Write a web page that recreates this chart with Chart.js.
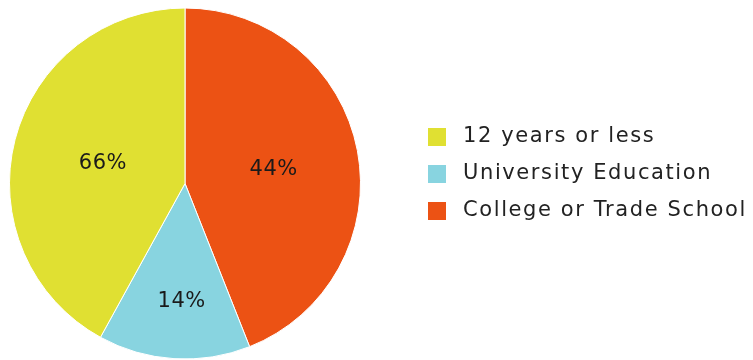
<!DOCTYPE html>
<html>
<head>
<meta charset="utf-8">
<script src="https://cdn.jsdelivr.net/npm/chart.js@4"></script>
<style>
  html, body { margin: 0; padding: 0; background: #fff; }
  #wrap { width: 753px; height: 360px; }
</style>
</head>
<body>
<div id="wrap"><canvas id="pieChart"></canvas></div>
<script>
const categories = ['12 years or less', 'University Education', 'College or Trade School'];
const shares = [42, 14, 44];
const shareLabels = ['66%', '14%', '44%'];
const sliceColors = ['#E0E032', '#88D4E0', '#EC5214'];

// slices go clockwise from the top in the reverse of the legend order
const order = [2, 1, 0];

// percent text at each slice's centroid
const sliceText = {
    id: 'sliceText',
    afterDatasetsDraw(chart) {
        const ctx = chart.ctx;
        const arcs = chart.getDatasetMeta(0).data;
        ctx.save();
        ctx.font = '21px "DejaVu Sans"';
        ctx.letterSpacing = '0.5px';
        ctx.fillStyle = '#1a1a1a';
        ctx.textAlign = 'center';
        ctx.textBaseline = 'middle';
        arcs.forEach((arc, i) => {
            const p = arc.getProps(['x', 'y', 'startAngle', 'endAngle', 'outerRadius']);
            const sweep = p.endAngle - p.startAngle;
            const mid = p.startAngle + sweep / 2;
            const r = 4 * p.outerRadius * Math.sin(sweep / 2) / (3 * sweep) + 3;
            ctx.fillText(shareLabels[order[i]], p.x + Math.cos(mid) * r + 4, p.y + Math.sin(mid) * r + 2);
        });
        ctx.restore();
    }
};

// legend on the right, drawn by hand so it can sit away from the pie
const sideLegend = {
    id: 'sideLegend',
    afterDraw(chart) {
        const ctx = chart.ctx;
        ctx.save();
        ctx.font = '21px "DejaVu Sans"';
        ctx.letterSpacing = '1.6px';
        ctx.textBaseline = 'middle';
        categories.forEach((label, i) => {
            const y = 137 + i * 37;
            ctx.fillStyle = sliceColors[i];
            ctx.fillRect(428, y - 9, 18, 18);
            ctx.fillStyle = '#222';
            ctx.fillText(label, 463, y);
        });
        ctx.restore();
    }
};

new Chart(document.getElementById('pieChart'), {
    type: 'pie',
    data: {
        labels: order.map(i => categories[i]),
        datasets: [{
            data: order.map(i => shares[i]),
            backgroundColor: order.map(i => sliceColors[i]),
            borderColor: '#ffffff',
            borderWidth: 1
        }]
    },
    options: {
        responsive: true,
        maintainAspectRatio: false,
        animation: false,
        layout: {
            padding: { left: 9, top: 7, bottom: 0, right: 392 }
        },
        plugins: {
            legend: { display: false },
            tooltip: { enabled: false }
        }
    },
    plugins: [sliceText, sideLegend]
});
</script>
</body>
</html>
